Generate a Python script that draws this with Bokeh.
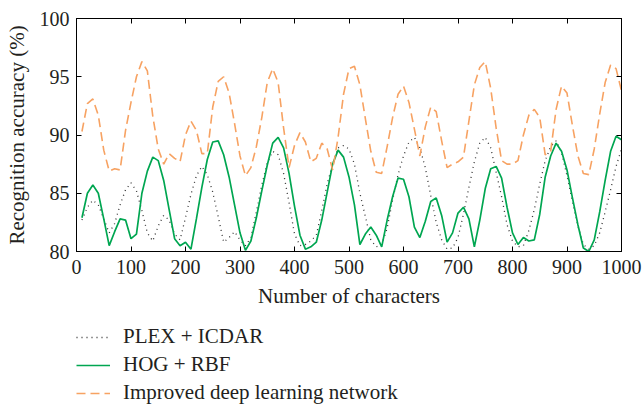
from bokeh.plotting import figure
from bokeh.models import (LinearAxis, Legend, LegendItem, FixedTicker, Range1d,
                          CustomJSTickFormatter)
from bokeh.layouts import column
from bokeh.embed import file_html
from bokeh.resources import INLINE

chars = list(range(10, 1001, 10))

plex_icdar = [82.7, 83.8, 84.4, 84.0, 82.8, 81.6, 82.4, 84.0, 85.3, 85.9,
              85.2, 83.5, 81.6, 80.9, 82.2, 83.1, 82.7, 81.5, 81.0, 82.9,
              84.9, 86.5, 87.3, 86.6, 85.1, 83.0, 80.8, 81.2, 81.7, 81.0,
              80.5, 81.2, 83.4, 85.7, 87.6, 88.6, 88.3, 86.7, 84.2, 81.5,
              80.5, 80.6, 80.9, 81.4, 83.5, 85.8, 87.5, 88.9, 89.1, 88.8,
              87.5, 85.0, 83.0, 81.0, 80.4, 80.6, 82.0, 84.4, 86.6, 88.2,
              89.4, 89.8, 88.9, 87.2, 84.8, 82.5, 81.0, 80.2, 80.3, 81.2,
              83.2, 85.5, 87.7, 89.3, 89.8, 88.9, 86.8, 84.7, 82.3, 80.9,
              80.4, 80.5, 81.8, 83.6, 85.8, 87.8, 89.0, 89.5, 88.5, 86.5,
              84.3, 82.2, 80.6, 80.2, 80.5, 81.6, 83.4, 85.3, 87.3, 88.8]

hog_rbf = [82.9, 85.0, 85.7, 85.0, 82.8, 80.5, 81.7, 82.8, 82.7, 81.1,
           81.5, 85.0, 86.9, 88.1, 87.8, 86.1, 83.6, 81.1, 80.5, 80.8,
           80.2, 82.8, 85.5, 87.9, 89.4, 89.5, 88.3, 86.4, 84.0, 81.6,
           80.1, 80.9, 82.9, 85.2, 87.4, 89.3, 89.8, 88.9, 86.7, 83.9,
           81.4, 80.2, 80.4, 80.8, 82.7, 85.1, 87.5, 88.7, 88.1, 86.4,
           84.0, 80.6, 81.5, 82.1, 81.4, 80.4, 82.7, 84.7, 86.3, 86.2,
           84.7, 82.1, 81.2, 82.6, 84.3, 84.6, 83.1, 80.8, 81.6, 83.3,
           83.8, 82.8, 80.4, 82.7, 85.4, 87.1, 87.3, 86.3, 83.8, 81.6,
           80.6, 81.2, 80.9, 81.0, 83.2, 86.4, 88.2, 89.3, 88.6, 87.0,
           84.6, 82.3, 80.3, 80.0, 81.0, 83.4, 86.1, 88.6, 89.9, 89.6]

improved = [90.3, 92.7, 93.1, 91.7, 88.7, 86.9, 87.1, 87.0, 90.4, 92.8,
            95.0, 96.3, 95.5, 91.6, 88.8, 87.5, 88.4, 88.0, 87.7, 90.0,
            91.2, 90.4, 88.4, 88.4, 92.4, 94.6, 95.0, 93.6, 91.0, 88.2,
            86.5, 87.2, 89.0, 91.5, 94.5, 95.7, 94.5, 90.6, 87.2, 89.1,
            90.2, 89.4, 87.7, 88.0, 89.3, 88.8, 87.0, 89.8, 93.5, 95.7,
            95.9, 94.3, 91.4, 88.6, 86.8, 86.7, 89.0, 91.5, 93.5, 94.2,
            92.8, 90.5, 88.2, 90.7, 92.4, 92.0, 89.5, 87.2, 87.5, 87.7,
            88.1, 91.2, 94.3, 95.8, 96.3, 94.0, 90.6, 87.8, 87.5, 87.5,
            87.8, 90.0, 91.7, 92.2, 91.5, 88.3, 88.6, 92.2, 94.2, 93.6,
            90.8, 88.2, 86.7, 86.6, 88.8, 91.8, 94.5, 96.0, 95.7, 93.8]

series_names = ["PLEX + ICDAR", "HOG + RBF", "Improved deep learning network"]
x_ticks = list(range(0, 1001, 100))
y_ticks = [80, 85, 90, 95, 100]

FONT = "Liberation Serif"
TXT = "#231f20"

STYLES = [dict(line_color="#333333", line_width=1.3, line_dash="1 4"),
          dict(line_color="#00a651", line_width=1.7),
          dict(line_color="#f7a262", line_width=1.6, line_dash="9 5")]
SERIES = [plex_icdar, hog_rbf, improved]

p = figure(width=643, height=318, output_backend="svg", toolbar_location=None,
           x_range=Range1d(0, 1000), y_range=Range1d(80, 100))
p.min_border_left = 76
p.min_border_right = 22
p.min_border_top = 18
p.min_border_bottom = 67
p.outline_line_color = "black"
p.outline_line_width = 1
p.xgrid.visible = False
p.ygrid.visible = False

for ax in (p.xaxis[0], p.yaxis[0]):
    ax.major_label_text_font = FONT
    ax.major_label_text_font_size = "20px"
    ax.major_label_text_color = TXT
    ax.axis_label_text_font = FONT
    ax.axis_label_text_font_size = "21px"
    ax.axis_label_text_font_style = "normal"
    ax.axis_label_text_color = TXT
    ax.major_tick_in = 5
    ax.major_tick_out = 0
    ax.minor_tick_line_color = None
    ax.axis_line_color = "black"
    ax.major_tick_line_color = "black"

p.xaxis[0].ticker = FixedTicker(ticks=x_ticks)
p.yaxis[0].ticker = FixedTicker(ticks=y_ticks)
p.xaxis[0].axis_label = "Number of characters"
p.yaxis[0].axis_label = "Recognition accuracy (%)"
p.xaxis[0].major_label_standoff = 8
p.xaxis[0].axis_label_standoff = 7
p.yaxis[0].major_label_standoff = 7
p.yaxis[0].axis_label_standoff = 8

blank = CustomJSTickFormatter(code="return ''")
top = LinearAxis(ticker=FixedTicker(ticks=x_ticks), major_tick_in=5, major_tick_out=0,
                 minor_tick_line_color=None, formatter=blank, major_label_standoff=0)
right = LinearAxis(ticker=FixedTicker(ticks=y_ticks), major_tick_in=5, major_tick_out=0,
                   minor_tick_line_color=None, formatter=blank, major_label_standoff=0)
p.add_layout(top, "above")
p.add_layout(right, "right")

for ys, st in zip(SERIES, STYLES):
    p.line(chars, ys, **st)

# legend panel below the chart
q = figure(width=643, height=87, output_backend="svg", toolbar_location=None,
           x_range=Range1d(-2, -1), y_range=Range1d(-2, -1),
           x_axis_location=None, y_axis_location=None)
q.min_border = 0
q.min_border_left = 0
q.min_border_right = 0
q.min_border_top = 0
q.min_border_bottom = 0
q.xgrid.visible = False
q.ygrid.visible = False
q.outline_line_color = None

items = []
for name, ys, st in zip(series_names, SERIES, STYLES):
    r = q.line(chars, ys, **st)
    items.append(LegendItem(label=name, renderers=[r]))

legend = Legend(items=items, location=(0, 0))
legend.glyph_width = 34
legend.glyph_height = 24
legend.label_standoff = 13
legend.spacing = 3
legend.padding = 0
legend.margin = 0
legend.border_line_color = None
legend.background_fill_alpha = 0
legend.label_text_font = FONT
legend.label_text_font_size = "21px"
legend.label_text_color = TXT
q.add_layout(legend, "center")

layout = column(p, q, spacing=0)
open("out.html", "w").write(file_html(layout, INLINE))
